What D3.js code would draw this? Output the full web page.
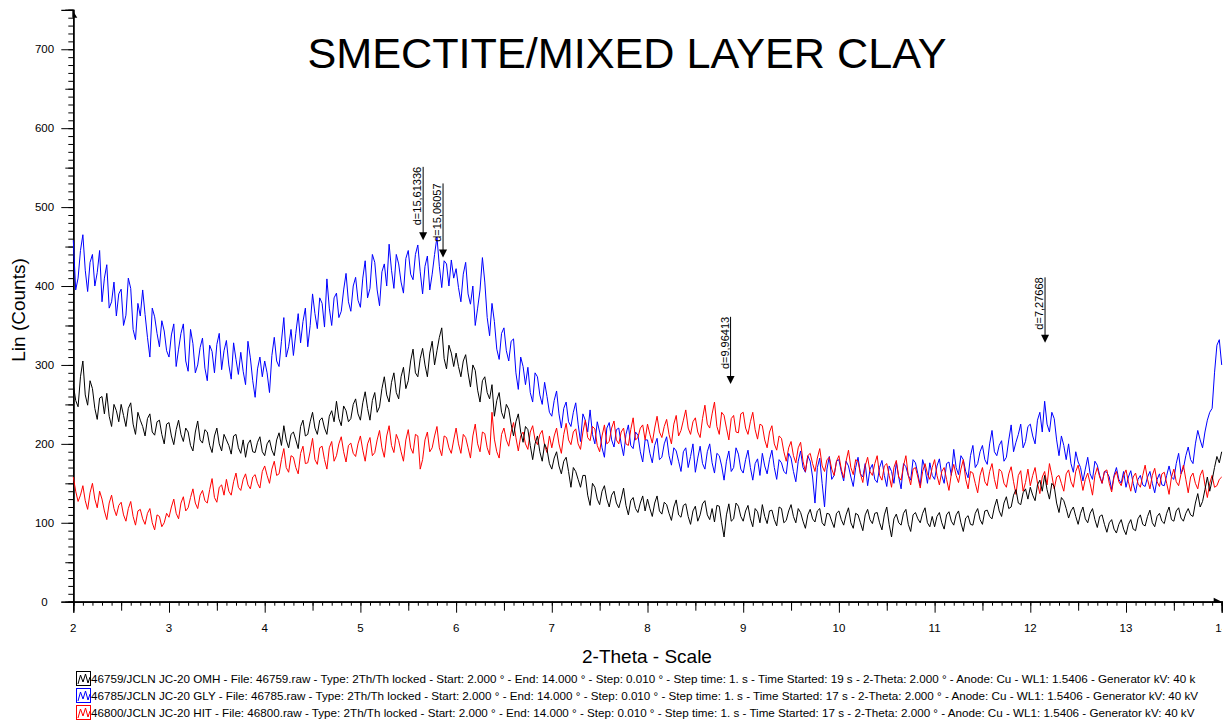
<!DOCTYPE html>
<html><head><meta charset="utf-8">
<script src="https://cdn.jsdelivr.net/npm/d3@7"></script>
<style>
html,body{margin:0;padding:0;background:#fff;}
svg{display:block;font-family:"Liberation Sans",Arial,sans-serif;}
</style></head>
<body><svg id="chart" width="1228" height="722"></svg>
<script>
// ---- data ----
const thetaStart = 2.0, thetaEnd = 14.0;   // 2-Theta range of the scans
const xTickLabels = ["2","3","4","5","6","7","8","9","10","11","12","13","14"];
const yTickLabels = ["0","100","200","300","400","500","600","700"];

// counts, one row per degree of 2-Theta (0.025° sampling)
const omhCounts = [
 275,255,247,285,305,262,249,280,270,245,231,258,260,238,264,235,222,250,242,228,250,236,222,245,252,225,212,240,230,222,210,232,238,215,211,228,230,212,200,225,
 227,210,199,218,230,212,203,220,215,198,191,215,229,205,201,218,215,198,189,210,220,200,191,212,205,198,187,210,212,195,188,205,183,200,205,190,189,202,209,190,
 185,200,205,192,185,205,214,198,223,205,195,212,215,205,194,222,230,210,212,228,240,220,212,230,233,220,212,235,242,228,254,232,223,248,242,228,232,250,257,238,
 230,252,266,245,230,255,265,240,247,270,285,262,253,278,290,265,257,285,297,270,280,305,320,290,285,308,321,300,285,315,330,300,318,335,347,308,295,325,315,298,
 315,298,285,305,313,290,272,300,293,268,253,280,285,265,257,275,235,255,265,240,232,250,244,225,210,228,238,215,202,222,218,198,180,200,210,190,178,200,193,175,
 168,182,190,172,162,178,183,165,145,170,165,155,145,160,160,135,122,150,145,130,123,140,147,130,120,135,140,125,119,130,144,122,110,128,132,118,113,125,134,115,
 130,118,108,125,134,115,111,126,123,112,103,120,129,110,107,122,124,108,98,115,121,102,110,124,128,110,104,118,101,122,121,100,82,110,124,102,105,125,121,108,
 102,115,122,105,95,118,114,100,123,108,99,115,116,104,96,120,118,100,103,115,123,108,100,118,113,102,93,110,117,105,101,115,118,100,96,112,111,102,94,112,
 115,104,97,110,119,100,93,112,110,100,90,110,117,104,99,112,113,100,91,110,120,98,82,105,111,100,97,112,117,98,89,110,113,105,100,112,119,100,95,108,
 95,108,113,100,92,110,114,102,97,110,115,100,89,106,109,98,97,112,118,104,98,115,116,108,105,120,130,115,108,125,133,118,120,135,142,125,123,138,143,130,
 145,135,128,148,154,140,160,142,130,150,146,125,113,132,128,118,106,115,120,108,98,112,120,105,100,112,118,104,94,108,110,98,88,100,104,92,87,98,104,92,
 85,98,104,92,90,105,110,98,96,108,116,100,95,108,112,102,99,112,120,104,102,115,119,106,102,112,118,110,108,125,137,120,127,142,158,140,154,170,184,176,
 190];

const glyCounts = [
 458,395,410,445,465,420,393,430,440,400,417,445,380,410,427,372,380,405,362,390,396,350,363,410,397,345,332,378,362,395,364,335,310,372,361,340,323,356,343,318,
 310,338,352,298,320,340,352,305,292,345,327,290,300,322,334,296,280,325,317,290,326,340,294,318,331,300,282,328,307,288,316,292,275,330,309,280,259,295,310,285,
 305,290,265,312,335,305,298,330,360,310,323,345,312,340,365,328,355,372,323,350,390,365,346,385,378,348,409,372,350,385,391,360,368,395,416,380,368,400,411,382,
 373,410,432,385,397,440,430,395,375,418,428,400,453,420,397,440,428,405,391,435,445,415,408,440,452,418,390,425,438,395,415,440,462,425,398,432,428,400,433,410,
 422,398,380,415,430,390,377,400,350,372,395,436,405,360,337,378,355,320,307,340,347,318,305,330,333,290,269,310,298,275,297,265,253,290,285,262,250,278,260,240,
 235,255,267,238,220,245,253,228,222,240,252,225,203,238,230,215,243,212,200,228,215,195,183,220,227,205,196,218,220,200,185,212,224,198,194,215,211,190,177,205,
 205,188,176,198,207,180,183,200,209,185,173,195,191,178,165,190,195,170,184,200,164,182,197,175,168,190,200,176,163,188,185,172,154,178,191,165,170,195,187,168,
 163,180,192,170,154,175,181,160,188,172,162,180,192,170,155,180,176,165,162,188,182,165,152,178,191,170,164,185,178,158,125,170,182,150,120,168,184,155,160,178,
 180,165,153,178,172,158,146,170,183,162,158,175,147,168,174,155,151,170,179,160,146,172,165,150,176,158,143,175,171,160,154,180,176,162,147,180,169,150,176,160,
 155,172,181,160,150,175,177,160,193,170,161,185,180,165,157,185,198,170,175,190,198,180,174,200,217,190,185,198,204,178,183,205,224,190,202,212,225,195,203,222,
 225,210,200,230,240,215,254,225,215,240,232,205,185,210,198,180,200,175,164,190,177,170,153,168,183,162,155,178,173,160,150,165,164,158,142,160,170,155,150,165,
 145,158,166,150,138,155,160,148,146,158,165,150,138,155,162,148,147,160,172,158,155,175,188,162,169,185,196,180,175,200,217,205,195,215,230,240,245,290,325,332,
 300];

const hitCounts = [
 158,140,127,135,147,128,117,138,150,130,119,140,130,115,104,125,135,118,109,122,126,110,102,118,127,108,97,115,117,105,98,112,118,100,91,110,108,95,100,112,
 107,120,130,112,105,125,133,115,119,132,143,125,118,135,141,128,125,142,156,132,126,145,148,135,155,140,135,152,163,145,141,155,162,148,143,158,161,150,144,165,
 172,160,150,168,178,160,162,180,194,170,164,185,183,170,162,188,197,175,176,190,207,180,174,195,197,180,168,195,203,178,185,200,209,190,177,198,201,188,184,200,
 210,192,178,200,208,185,189,205,217,195,183,210,223,198,189,212,204,190,178,205,218,195,188,212,210,168,180,205,215,190,195,210,222,195,185,210,208,195,188,205,
 220,200,188,212,208,195,182,210,225,200,190,215,213,195,186,240,206,190,182,212,220,205,197,215,227,208,191,210,215,200,193,215,223,205,199,212,217,198,189,210,
 195,210,220,200,188,212,226,205,199,215,219,200,193,215,230,208,204,222,219,198,190,210,224,200,203,220,229,205,200,215,220,200,198,218,233,205,208,220,224,205,
 225,212,201,220,235,215,208,222,231,212,200,225,236,210,217,230,243,220,212,228,233,215,208,232,249,225,220,238,253,222,212,240,236,220,205,232,236,215,214,238,
 240,220,212,228,240,218,206,225,223,205,195,215,223,200,192,210,207,190,178,195,203,185,176,195,202,178,165,185,188,175,165,182,194,172,165,180,183,168,160,178,
 185,168,157,178,192,170,161,180,178,162,151,172,183,165,160,175,185,160,154,172,175,160,145,170,179,158,154,172,185,160,148,168,170,158,144,165,175,162,155,170,
 180,160,148,165,170,155,141,162,174,160,151,168,180,155,143,165,163,150,138,160,170,152,147,165,175,155,143,168,165,150,145,162,171,152,136,160,166,140,151,168,
 147,160,170,150,137,158,165,148,175,160,143,158,160,150,140,162,167,152,145,165,173,158,141,155,163,150,135,160,170,158,150,165,167,150,139,158,165,152,147,160,
 167,152,140,158,163,150,145,160,173,155,143,160,169,152,146,162,164,150,136,158,168,152,147,162,173,155,138,158,163,150,143,160,167,148,132,150,160,145,147,155,
 158];

const seriesColors = ["#0000ff","#ff0000","#000000"];

const legendTexts = [
 "46759/JCLN JC-20 OMH - File: 46759.raw - Type: 2Th/Th locked - Start: 2.000 ° - End: 14.000 ° - Step: 0.010 ° - Step time: 1. s - Time Started: 19 s - 2-Theta: 2.000 ° - Anode: Cu - WL1: 1.5406 - Generator kV: 40 k",
 "46785/JCLN JC-20 GLY - File: 46785.raw - Type: 2Th/Th locked - Start: 2.000 ° - End: 14.000 ° - Step: 0.010 ° - Step time: 1. s - Time Started: 17 s - 2-Theta: 2.000 ° - Anode: Cu - WL1: 1.5406 - Generator kV: 40 kV",
 "46800/JCLN JC-20 HIT - File: 46800.raw - Type: 2Th/Th locked - Start: 2.000 ° - End: 14.000 ° - Step: 0.010 ° - Step time: 1. s - Time Started: 17 s - 2-Theta: 2.000 ° - Anode: Cu - WL1: 1.5406 - Generator kV: 40 kV"];
const legendColors = ["#000000","#0000ff","#ff0000"];

// peak markers: label, 2-theta, counts at arrow tip, counts at line top
const peakLabels = ["d=15,61336","d=15,06057","d=9,96413","d=7,27668"];
const peakTheta  = [5.6556, 5.8635, 8.868, 12.154];
const peakTip    = [458, 436, 276, 328];
const peakTop    = [551, 530, 361, 411];

// ---- drawing ----
const svg = d3.select("#chart");
const x = d3.scaleLinear().domain([2,14]).range([73.3,1221.7]);
const y = d3.scaleLinear().domain([0,750]).range([601.7,9.8]);

svg.append("defs").append("clipPath").attr("id","pageclip")
  .append("rect").attr("x",0).attr("y",0).attr("width",1222).attr("height",722);

// y axis: minor (10), medium (50), major (100)
const gy = svg.append("g").attr("transform","translate(73.3,0)");
gy.append("g").call(d3.axisLeft(y).tickValues(d3.range(0,751,10)).tickSize(5).tickFormat(""));
gy.append("g").call(d3.axisLeft(y).tickValues(d3.range(50,751,100)).tickSize(8).tickFormat(""));
gy.append("g").call(d3.axisLeft(y).tickValues(yTickLabels.map(Number)).tickSize(12).tickFormat(""));
gy.selectAll("path.domain").attr("stroke","#000").attr("stroke-width",1.2);
gy.selectAll("line").attr("stroke","#000");
gy.append("g").selectAll("text").data(yTickLabels).join("text")
  .attr("x",-28.8).attr("y",d=>y(+d)+4).attr("text-anchor","middle")
  .attr("font-size",11.5).attr("fill","#000").text(d=>d);

// x axis
const gx = svg.append("g").attr("transform","translate(0,601.7)");
gx.append("g").call(d3.axisBottom(x).tickValues(d3.range(20,141).map(d=>d/10)).tickSize(4).tickFormat(""));
gx.append("g").call(d3.axisBottom(x).tickValues(d3.range(2.5,14,1)).tickSize(9).tickFormat(""));
gx.append("g").call(d3.axisBottom(x).tickValues(xTickLabels.map(Number)).tickSize(11).tickFormat(""));
gx.selectAll("path.domain").attr("stroke","#000").attr("stroke-width",1.2);
gx.selectAll("line").attr("stroke","#000");
gx.append("g").attr("clip-path","url(#pageclip)").attr("transform","translate(0,-601.7)")
  .selectAll("text").data(xTickLabels).join("text")
  .attr("x",d=>x(+d)).attr("y",631.5).attr("text-anchor","middle")
  .attr("font-size",11.5).attr("fill","#000").text(d=>d);

// axis arrows
svg.append("path").attr("d",`M${x(2)-1},${y(750)} L${x(2)+4},${y(750)+8} L${x(2)-1},${y(750)+8} Z`).attr("fill","#000");
svg.append("path").attr("d",`M${x(14)},${y(0)} L${x(14)-8},${y(0)-4} L${x(14)-8},${y(0)+1} Z`).attr("fill","#000");

// series (drawn blue, red, black)
const allSeries = [glyCounts, hitCounts, omhCounts];
const line = d3.line()
  .x((d,i,arr)=>x(thetaStart + i*(thetaEnd-thetaStart)/(arr.length-1)))
  .y(d=>y(d));
svg.append("g").selectAll("path").data(allSeries).join("path")
  .attr("d",d=>line(d)).attr("fill","none")
  .attr("stroke",(d,i)=>seriesColors[i]).attr("stroke-width",1).attr("stroke-linejoin","round");

// peak markers
const pk = svg.append("g").selectAll("g").data(peakLabels).join("g");
pk.append("line").attr("x1",(d,i)=>x(peakTheta[i])).attr("x2",(d,i)=>x(peakTheta[i]))
  .attr("y1",(d,i)=>y(peakTop[i])).attr("y2",(d,i)=>y(peakTip[i])-6)
  .attr("stroke","#000").attr("stroke-width",1);
pk.append("path").attr("d",(d,i)=>{const px=x(peakTheta[i]), py=y(peakTip[i]);
   return `M${px},${py} L${px-4},${py-8} L${px+4},${py-8} Z`;}).attr("fill","#000");
pk.append("text").attr("transform",(d,i)=>`translate(${x(peakTheta[i])-2},${y(peakTop[i])}) rotate(-90)`)
  .attr("text-anchor","end").attr("font-size",11).attr("fill","#000").text(d=>d);

// title and axis titles
svg.append("text").attr("x",627).attr("y",68).attr("text-anchor","middle")
  .attr("font-size",43.2).attr("fill","#000").text("SMECTITE/MIXED LAYER CLAY");
svg.append("text").attr("transform","translate(25,310) rotate(-90)").attr("text-anchor","middle")
  .attr("font-size",19).attr("fill","#000").text("Lin (Counts)");
svg.append("text").attr("x",647).attr("y",663).attr("text-anchor","middle")
  .attr("font-size",19).attr("fill","#000").text("2-Theta - Scale");

// legend
const lg = svg.append("g").selectAll("g").data(legendTexts).join("g")
  .attr("transform",(d,i)=>`translate(76,${671+i*17})`);
lg.append("rect").attr("x",0.5).attr("y",0.5).attr("width",14).attr("height",14)
  .attr("fill","#fff").attr("stroke",(d,i)=>legendColors[i]).attr("stroke-width",1);
lg.append("path").attr("d","M2,13 L4.5,4 L7,11 L9.5,3 L12,12 L14,6").attr("fill","none")
  .attr("stroke",(d,i)=>legendColors[i]).attr("stroke-width",1);
lg.append("text").attr("x",15).attr("y",11.5).attr("font-size",11.65).attr("fill","#000").text(d=>d);
</script></body></html>
